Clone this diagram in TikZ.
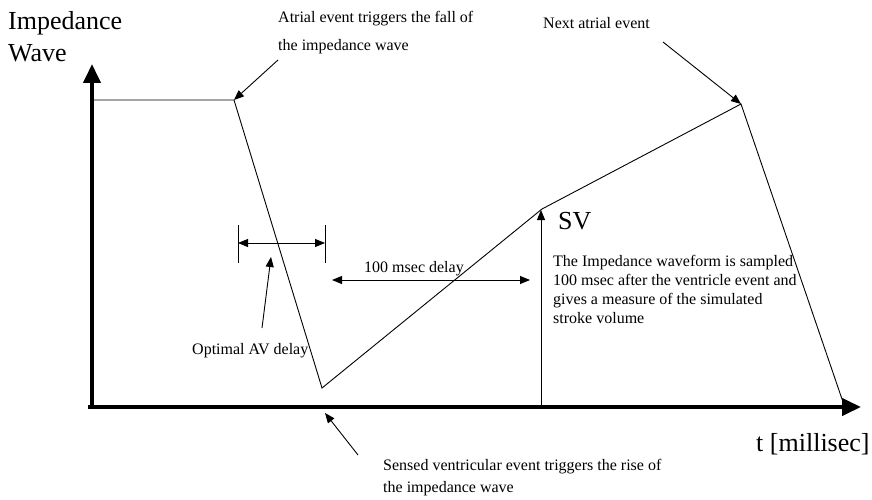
\documentclass[tikz,border=0pt]{standalone}
\usepackage{fontspec}
\setmainfont{Liberation Serif}
\usetikzlibrary{arrows.meta}
\begin{document}
\begin{tikzpicture}[x=1pt,y=-1pt,
  axisline/.style={line width=4pt,-{Triangle[length=19pt,width=17pt]}},
  wave/.style={line width=0.9pt,line join=miter},
  thin/.style={line width=0.9pt},
  pointer/.style={line width=0.9pt,-{Triangle[length=10pt,width=8pt]}},
  twoway/.style={line width=0.9pt,{Triangle[length=10pt,width=8pt]}-{Triangle[length=10pt,width=8pt]}},
  bigtext/.style={inner sep=0pt,align=left,font=\fontsize{26}{32}\selectfont},
  smalltext/.style={inner sep=0pt,align=left,font=\fontsize{16}{19}\selectfont},
]
\useasboundingbox (0,0) rectangle (872,500);
% axes
\coordinate (origin) at (92,407);
\coordinate (ytip) at (92,64);
\coordinate (xstart) at (88,407);
\coordinate (xtip) at (861,407);
\draw[axisline] (92,409) -- (ytip);
\draw[axisline] (xstart) -- (xtip);
% waveform
\coordinate (w0) at (92,100);
\coordinate (w1) at (234,100);
\coordinate (w2) at (322,388);
\coordinate (w3) at (542,209);
\coordinate (w4) at (741,104);
\coordinate (w5) at (843,402);
\draw[wave] (w0) -- (w1) -- (w2) -- (w3) -- (w4) -- (w5);
% labels
\node[bigtext,anchor=north west] (ylab) at (8,11) {Impedance\\Wave};
\node[bigtext,anchor=north west] (xlab) at (756,433) {t [millisec]};
\node[bigtext,anchor=north west] (sv) at (558,212) {SV};
\node[smalltext,anchor=north west,font=\fontsize{16}{28}\selectfont] (atrial) at (278,11) {Atrial event triggers the fall of\\the impedance wave};
\node[smalltext,anchor=north west] (next) at (543,17) {Next atrial event};
\node[smalltext,anchor=north west,font=\fontsize{16}{22}\selectfont] (sensed) at (383,459) {Sensed ventricular event triggers the rise of\\the impedance wave};
\node[smalltext,anchor=north west] (optimal) at (192,343) {Optimal AV delay};
\node[smalltext,anchor=south] (msec) at (414,276) {100 msec delay};
\node[smalltext,anchor=north west] (para) at (553,255) {The Impedance waveform is sampled\\100 msec after the ventricle event and\\gives a measure of the simulated\\stroke volume};
% pointers
\coordinate (atrialfrom) at (278,60);
\coordinate (nextfrom) at (663,42);
\coordinate (sensedfrom) at (358,455);
\coordinate (sensedto) at (325,413);
\coordinate (optfrom) at (262,328);
\coordinate (optto) at (271,257);
\draw[pointer] (atrialfrom) -- (w1);
\draw[pointer] (nextfrom) -- (w4);
\draw[pointer] (sensedfrom) -- (sensedto);
\draw[pointer] (optfrom) -- (optto);
% AV delay bars
\coordinate (avlt) at (238,225);
\coordinate (avlb) at (238,263);
\coordinate (avrt) at (325,225);
\coordinate (avrb) at (325,263);
\draw[thin] (avlt) -- (avlb);
\draw[thin] (avrt) -- (avrb);
\coordinate (ava) at (238,243);
\coordinate (avb) at (325,243);
\draw[twoway] (ava) -- (avb);
% 100 msec delay
\coordinate (ma) at (332,280);
\coordinate (mb) at (530,280);
\draw[twoway] (ma) -- (mb);
% SV arrow
\coordinate (svbase) at (541,407);
\draw[pointer] (svbase) -- (541,210);
\end{tikzpicture}
\end{document}
